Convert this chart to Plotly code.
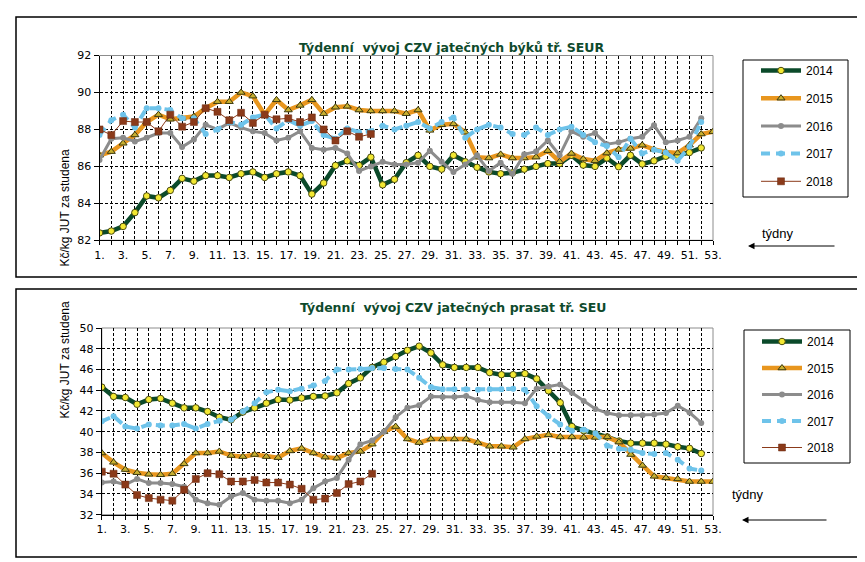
import plotly.graph_objects as go

# ---------------- data ----------------
weeks = list(range(1, 54))
tick_text = [f"{w}." if w % 2 == 1 else "" for w in weeks]
series_names = ["2014", "2015", "2016", "2017", "2018"]

# Top chart: bulls (býci) tř. SEUR
bulls_2014 = [82.4, 82.5, 82.75, 83.5, 84.4, 84.3, 84.7, 85.35, 85.2, 85.5,
              85.5, 85.4, 85.6, 85.7, 85.4, 85.6, 85.7, 85.5, 84.5, 85.1,
              86.05, 86.3, 86.05, 86.5, 85.0, 85.3, 86.2, 86.6, 86.0, 85.85,
              86.6, 86.25, 85.95, 85.7, 85.6, 85.65, 85.85, 86.0, 86.15, 86.15,
              86.6, 86.07, 86.0, 86.45, 85.98, 86.6, 86.13, 86.3, 86.55, 86.6,
              86.75, 87.0]
bulls_2015 = [86.6, 86.8, 87.25, 87.7, 88.4, 88.8, 88.55, 88.6, 88.7, 89.15,
              89.5, 89.5, 90.0, 89.8, 88.8, 89.6, 89.05, 89.3, 89.6, 88.85,
              89.2, 89.25, 89.05, 89.0, 89.0, 89.0, 88.85, 89.05, 87.95, 88.25,
              88.3, 87.85, 86.5, 86.45, 86.65, 86.45, 86.45, 86.5, 86.85, 86.25,
              86.7, 86.4, 86.3, 86.72, 86.92, 86.97, 87.15, 86.92, 86.78, 86.72,
              87.15, 87.75, 87.88]
bulls_2016 = [86.35, 87.5, 87.55, 87.35, 87.55, 87.8, 87.8, 87.05, 87.45, 88.25,
              88.0, 88.35, 88.1, 87.9, 87.8, 87.4, 87.55, 87.9, 87.0, 86.9,
              87.0, 86.7, 85.75, 86.0, 86.25, 86.1, 86.1, 86.2, 86.85, 86.25,
              85.7, 86.1, 86.6, 85.75, 86.2, 85.6, 86.65, 86.8, 87.4, 86.6,
              87.9, 87.6, 87.8, 87.2, 87.3, 87.5, 87.6, 88.23, 87.3, 87.4,
              87.6, 88.6]
bulls_2017 = [87.7, 88.5, 88.8, 88.1, 89.15, 89.15, 89.05, 88.6, 88.6, 87.75,
              88.0, 88.4, 88.25, 88.65, 88.8, 88.05, 88.5, 88.2, 88.45, 87.7,
              87.5, 88.05, 87.85, 87.9, 88.2, 88.0, 88.2, 88.4, 88.05, 88.4,
              88.65, 87.55, 88.0, 88.25, 88.1, 87.75, 87.7, 88.1, 87.7, 88.0,
              88.15, 87.7, 87.3, 87.1, 86.5, 87.5, 86.7, 86.9, 86.75, 86.3,
              87.06, 88.4]
bulls_2018 = [88.0, 87.7, 88.45, 88.4, 88.4, 87.9, 88.8, 88.15, 88.4, 89.15,
              88.95, 88.5, 88.9, 88.35, 88.8, 88.55, 88.6, 88.4, 88.65, 88.0,
              87.4, 87.9, 87.6, 87.75]

# Bottom chart: pigs (prasata) tř. SEU
pigs_2014 = [44.3, 43.4, 43.3, 42.65, 43.1, 43.2, 42.75, 42.3, 42.3, 41.95,
             41.4, 41.15, 41.9, 42.3, 42.75, 43.1, 43.05, 43.25, 43.4, 43.45,
             43.75, 44.65, 45.2, 46.2, 46.7, 47.25, 47.85, 48.25, 47.6, 46.45,
             46.2, 46.2, 46.2, 45.7, 45.5, 45.5, 45.6, 45.1, 43.95, 42.8,
             40.5, 40.1, 39.8, 39.5, 39.1, 38.9, 38.9, 38.9, 38.8, 38.55,
             38.4, 37.9]
pigs_2015 = [37.95, 37.05, 36.35, 36.05, 35.9, 35.85, 35.95, 36.9, 37.95, 37.95,
             38.1, 37.7, 37.6, 37.8, 37.6, 37.5, 38.15, 38.4, 37.95, 37.55,
             37.45, 37.95, 38.1, 38.8, 40.0, 40.5, 39.3, 38.95, 39.3, 39.3,
             39.3, 39.3, 38.95, 38.6, 38.6, 38.5, 39.3, 39.55, 39.7, 39.5,
             39.5, 39.45, 39.45, 39.5, 39.0, 37.8, 36.75, 35.7, 35.55, 35.45,
             35.2, 35.2, 35.2]
pigs_2016 = [35.1, 35.2, 34.9, 35.45, 35.05, 35.05, 34.95, 34.7, 33.45, 33.1,
             32.95, 33.75, 34.1, 33.45, 33.35, 33.35, 33.1, 33.45, 34.55, 35.2,
             35.55, 37.3, 38.8, 39.15, 40.0, 41.4, 42.3, 42.55, 43.4, 43.35,
             43.35, 43.45, 43.05, 42.85, 42.85, 42.85, 42.75, 44.15, 44.35, 44.55,
             43.75, 42.95, 42.2, 41.8, 41.6, 41.6, 41.6, 41.65, 41.8, 42.5,
             41.85, 40.85]
pigs_2017 = [41.0, 41.5, 40.5, 40.3, 40.7, 40.6, 40.6, 40.75, 40.3, 40.75,
             41.05, 41.15, 41.95, 42.75, 43.8, 44.05, 43.9, 44.15, 44.45, 44.9,
             46.0, 46.0, 46.05, 46.15, 46.15, 46.05, 46.0, 45.2, 44.3, 44.1,
             44.1, 44.1, 44.05, 44.1, 44.1, 44.15, 44.05, 42.45, 41.5, 40.7,
             40.1, 40.2, 39.85, 38.65, 38.35, 38.25, 37.95, 37.85, 37.95, 37.3,
             36.45, 36.25]
pigs_2018 = [36.15, 35.95, 34.9, 33.9, 33.6, 33.45, 33.35, 34.4, 35.45, 36.0,
             35.9, 35.2, 35.2, 35.35, 35.1, 35.1, 34.9, 34.5, 33.45, 33.55,
             34.1, 34.95, 35.2, 35.95]

top_series = [bulls_2014, bulls_2015, bulls_2016, bulls_2017, bulls_2018]
bot_series = [pigs_2014, pigs_2015, pigs_2016, pigs_2017, pigs_2018]

# ---------------- styles ----------------
W, H = 865, 562
styles = [
    dict(line=dict(color="#0B4A2A", width=4.5),
         marker=dict(symbol="circle", size=6.5, color="#F2E832", line=dict(color="#4A4A10", width=1))),
    dict(line=dict(color="#E8961E", width=4.5),
         marker=dict(symbol="triangle-up", size=7, color="#C8B030", line=dict(color="#3A3A10", width=1))),
    dict(line=dict(color="#8C8C8C", width=3),
         marker=dict(symbol="circle", size=6, color="#8C8C8C")),
    dict(line=dict(color="#6EC3EA", width=4, dash="9px,6px"),
         marker=dict(symbol="circle", size=6, color="#6EC3EA")),
    dict(line=dict(color="#8B3A1A", width=1),
         marker=dict(symbol="square", size=7, color="#8B3A1A", line=dict(color="#6B2A10", width=0.5))),
]

fig = go.Figure()

for i, (name, ys) in enumerate(zip(series_names, top_series)):
    fig.add_trace(go.Scatter(x=weeks[:len(ys)], y=ys, name=name, mode="lines+markers",
                             xaxis="x", yaxis="y", legend="legend",
                             legendgroup="t" + name, **styles[i]))
for i, (name, ys) in enumerate(zip(series_names, bot_series)):
    fig.add_trace(go.Scatter(x=weeks[:len(ys)], y=ys, name=name, mode="lines+markers",
                             xaxis="x2", yaxis="y2", legend="legend2",
                             legendgroup="b" + name, **styles[i]))


def px_x(v):
    return v / W


def px_y(v):
    return 1 - v / H


tick_font = dict(family="DejaVu Sans", size=11, color="#000000")
xcommon = dict(range=[1, 53], tickmode="array", tickvals=weeks, ticktext=tick_text,
               showgrid=True, gridcolor="#000000", griddash="3px,2px", gridwidth=1,
               ticks="outside", ticklen=4, tickcolor="#000000", showline=True,
               linecolor="#000000", linewidth=1, zeroline=False, tickfont=tick_font,
               fixedrange=True, automargin=False)
ycommon = dict(dtick=2, showgrid=True, gridcolor="#000000", griddash="3px,2px", gridwidth=1,
               ticks="outside", ticklen=5, tickcolor="#000000", showline=True,
               linecolor="#000000", linewidth=1, zeroline=False, automargin=False,
               tickfont=dict(family="DejaVu Sans", size=11, color="#000000"))

fig.update_layout(
    width=W, height=H, autosize=False,
    margin=dict(l=0, r=0, t=0, b=0, pad=0),
    paper_bgcolor="white", plot_bgcolor="white",
    xaxis=dict(domain=[px_x(91.5), px_x(705)], anchor="y", **xcommon),
    yaxis=dict(domain=[px_y(232.3), px_y(47.5)], range=[82, 92], anchor="x", **ycommon),
    xaxis2=dict(domain=[px_x(93.8), px_x(705)], anchor="y2", **xcommon),
    yaxis2=dict(domain=[px_y(506.7), px_y(320)], range=[32, 50], anchor="x2", **ycommon),
    legend=dict(x=px_x(748), y=px_y(48), xanchor="left", yanchor="top",
                bgcolor="rgba(0,0,0,0)", borderwidth=0, itemwidth=40,
                traceorder="grouped", tracegroupgap=8.7,
                font=dict(family="Liberation Sans", size=12, color="#000000")),
    legend2=dict(x=px_x(749), y=px_y(319), xanchor="left", yanchor="top",
                 bgcolor="rgba(0,0,0,0)", borderwidth=0, itemwidth=40,
                 traceorder="grouped", tracegroupgap=7.5,
                 font=dict(family="Liberation Sans", size=12, color="#000000")),
    showlegend=True,
)

shapes = []
# panel frames
for (y0, y1) in [(9, 269), (281, 549)]:
    shapes.append(dict(type="rect", xref="paper", yref="paper",
                       x0=px_x(8), x1=px_x(855), y0=px_y(y1), y1=px_y(y0),
                       line=dict(color="#000000", width=1.5), fillcolor="rgba(0,0,0,0)"))
# legend frames
for (x0, x1, y0, y1) in [(735, 840, 52, 189), (736, 842, 322, 455)]:
    shapes.append(dict(type="rect", xref="paper", yref="paper",
                       x0=px_x(x0), x1=px_x(x1), y0=px_y(y1), y1=px_y(y0),
                       line=dict(color="#000000", width=1), fillcolor="rgba(0,0,0,0)"))
# plot-area gray borders
for xr, yr in [("x domain", "y domain"), ("x2 domain", "y2 domain")]:
    shapes.append(dict(type="rect", xref=xr, yref=yr, x0=0, x1=1, y0=0, y1=1,
                       line=dict(color="#8C8C8C", width=1), layer="below"))
fig.update_layout(shapes=shapes)

title_font = dict(family="DejaVu Sans", size=12.5, color="#0E4A2C")
annotations = [
    dict(text="<b>Týdenní\u00a0 vývoj CZV jatečných býků tř. SEUR</b>", x=px_x(443), y=px_y(30),
         xref="paper", yref="paper", showarrow=False, font=title_font),
    dict(text="<b>Týdenní\u00a0 vývoj CZV jatečných prasat tř. SEU</b>", x=px_x(445), y=px_y(300),
         xref="paper", yref="paper", showarrow=False, font=title_font),
    dict(text="Kč/kg JUT za studena", x=px_x(47), y=px_y(140), textangle=-90,
         xref="paper", yref="paper", showarrow=False,
         font=dict(family="Liberation Sans", size=12, color="#000000")),
    dict(text="Kč/kg JUT za studena", x=px_x(47), y=px_y(413), textangle=-90,
         xref="paper", yref="paper", showarrow=False,
         font=dict(family="Liberation Sans", size=12, color="#000000")),
    dict(text="týdny", x=px_x(788), y=px_y(225), xref="paper", yref="paper", showarrow=False,
         font=dict(family="Liberation Sans", size=13, color="#000000")),
    dict(text="týdny", x=px_x(758), y=px_y(496), xref="paper", yref="paper", showarrow=False,
         font=dict(family="Liberation Sans", size=13, color="#000000")),
    dict(text="", x=px_x(740), y=px_y(238), xref="paper", yref="paper", showarrow=True,
         ax=88, ay=0, arrowhead=2, arrowsize=1.3, arrowwidth=1, arrowcolor="#000000"),
    dict(text="", x=px_x(734), y=px_y(512), xref="paper", yref="paper", showarrow=True,
         ax=86, ay=0, arrowhead=2, arrowsize=1.3, arrowwidth=1, arrowcolor="#000000"),
]
fig.update_layout(annotations=annotations)

fig.write_html("out.html")
